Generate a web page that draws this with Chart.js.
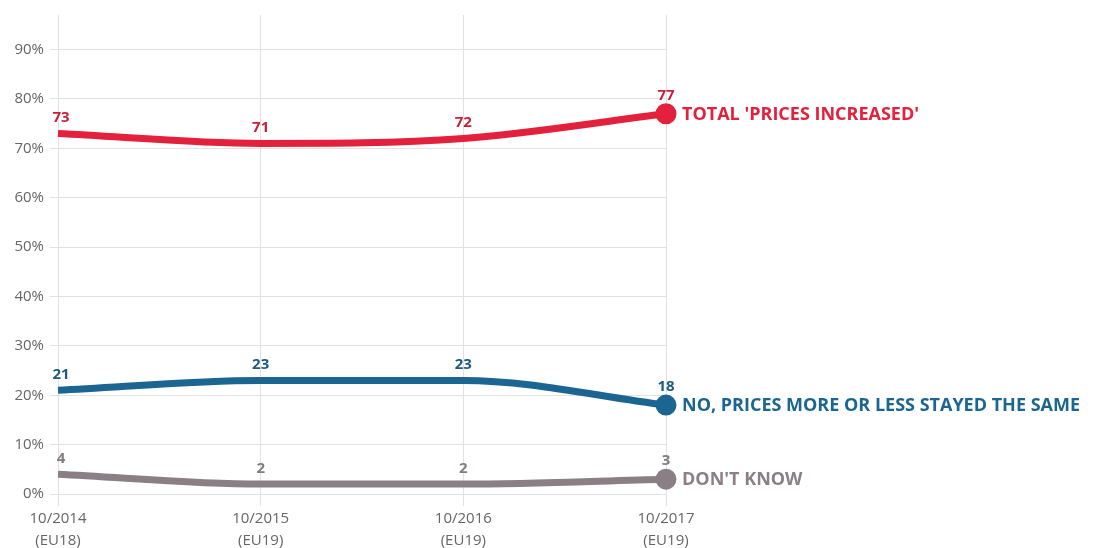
<!DOCTYPE html>
<html>
<head>
<meta charset="utf-8">
<script src="https://cdn.jsdelivr.net/npm/chart.js@4"></script>
<style>
  html, body { margin: 0; padding: 0; background: #fff; }
  #wrap { width: 1096px; height: 548px; position: relative; }
</style>
</head>
<body>
<div id="wrap"><canvas id="chart"></canvas></div>
<script>
// Survey waves (x axis)
const waves = [["10/2014", "(EU18)"], ["10/2015", "(EU19)"], ["10/2016", "(EU19)"], ["10/2017", "(EU19)"]];

// Series values in %
const pricesIncreased = [73, 71, 72, 77];
const pricesSame = [21, 23, 23, 18];
const dontKnow = [4, 2, 2, 3];

const seriesNames = ["TOTAL 'PRICES INCREASED'", "NO, PRICES MORE OR LESS STAYED THE SAME", "DON'T KNOW"];
const seriesColors = ["#e3213c", "#1a6591", "#8b7f86"];
const labelColors = ["#c8203a", "#1d5a80", "#857a80"];

const yTicks = [0, 10, 20, 30, 40, 50, 60, 70, 80, 90];

// Draws the value above every point and the series name at the right end
const labelsPlugin = {
  id: "labels",
  afterDatasetsDraw(chart) {
    const ctx = chart.ctx;
    chart.data.datasets.forEach((ds, i) => {
      const meta = chart.getDatasetMeta(i);
      ctx.save();
      ctx.fillStyle = labelColors[i];
      ctx.font = "bold 15px 'Open Sans'";
      ctx.textAlign = "center";
      ctx.textBaseline = "bottom";
      meta.data.forEach((pt, j) => {
        const last = j === meta.data.length - 1;
        ctx.fillText(ds.data[j], pt.x + (j === 0 ? 3 : 0), pt.y - (last ? 11 : 8));
      });
      const end = meta.data[meta.data.length - 1];
      ctx.font = "bold 18px 'Open Sans'";
      ctx.textAlign = "left";
      ctx.textBaseline = "middle";
      ctx.fillStyle = seriesColors[i];
      ctx.fillText(seriesNames[i], end.x + 16, end.y + 1);
      ctx.restore();
    });
  }
};

function makeDataset(data, i) {
  return {
    label: seriesNames[i],
    data: data,
    borderColor: seriesColors[i],
    backgroundColor: seriesColors[i],
    borderWidth: 7,
    cubicInterpolationMode: "monotone",
    pointRadius: data.map((v, k) => k === data.length - 1 ? 7 : 0),
    pointHoverRadius: 0,
    clip: false
  };
}

new Chart(document.getElementById("chart").getContext("2d"), {
  type: "line",
  data: {
    labels: waves,
    datasets: [makeDataset(pricesIncreased, 0), makeDataset(pricesSame, 1), makeDataset(dontKnow, 2)]
  },
  options: {
    responsive: true,
    maintainAspectRatio: false,
    animation: false,
    events: [],
    layout: { padding: { top: 4, right: 430, left: 0, bottom: 0 } },
    plugins: { legend: { display: false }, tooltip: { enabled: false } },
    scales: {
      x: {
        offset: false,
        grid: { color: "#e2e2e2", tickLength: 12, drawTicks: true },
        border: { display: false },
        ticks: { color: "#666", font: { family: "Open Sans", size: 15, lineHeight: 1.5 }, padding: 1, maxRotation: 0 },
        afterFit: (scale) => { scale.height = 54; }
      },
      y: {
        min: 0,
        max: 97,
        afterBuildTicks: (scale) => { scale.ticks = yTicks.map(v => ({ value: v })); },
        grid: { color: "#e2e2e2", tickLength: 8 },
        border: { display: false },
        ticks: { color: "#666", font: { family: "Open Sans", size: 15 }, padding: 6, callback: v => v + "%" },
        afterFit: (scale) => { scale.width = 58; }
      }
    }
  },
  plugins: [labelsPlugin]
});
</script>
</body>
</html>
